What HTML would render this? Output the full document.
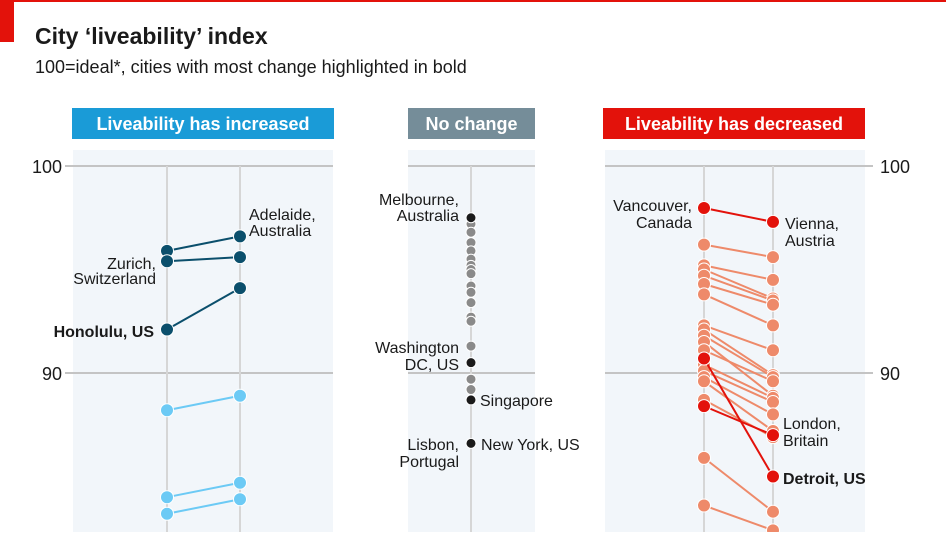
<!DOCTYPE html>
<html><head><meta charset="utf-8"><style>
body{margin:0;width:946px;height:532px;overflow:hidden;background:#fff;font-family:"Liberation Sans Narrow","Liberation Sans",sans-serif;}
svg text{font-family:"Liberation Sans Narrow","Liberation Sans",sans-serif;}
</style></head><body>
<svg id="c" width="946" height="532">
<rect x="0" y="0" width="946" height="2" fill="#e3120b"/>
<rect x="0" y="0" width="14" height="42" fill="#e3120b"/>
<text x="35" y="44" font-size="23" font-weight="bold" fill="#1a1a1a">City ‘liveability’ index</text>
<text x="35" y="73" font-size="18" fill="#1a1a1a">100=ideal*, cities with most change highlighted in bold</text>
</svg>
<script>
const incStart=[95.9,95.4,92.1,88.2,84.0,83.2];
const incEnd=[96.6,95.6,94.1,88.9,84.7,83.9];
const incHi=[1,1,1,0,0,0];
const noChange=[97.5,97.2,96.8,96.3,95.9,95.5,95.2,95.0,94.8,94.2,93.9,93.4,92.7,92.5,91.3,90.5,89.7,89.2,88.7,86.6];
const noHi=[1,0,0,0,0,0,0,0,0,0,0,0,0,0,0,1,0,0,1,1];
const decStart=[97.97,96.2,95.2,95.0,94.7,94.3,93.8,92.3,92.1,91.8,91.5,91.1,90.4,90.1,89.8,89.6,90.7,88.4,88.7,85.9,83.6];
const decEnd=[97.3,95.6,94.5,93.6,93.5,93.3,92.3,91.1,89.9,89.8,88.9,89.6,88.8,88.6,88.0,87.2,85.0,87.0,86.9,83.3,82.4];
const decHi=[1,0,0,0,0,0,0,0,0,0,0,0,0,0,0,0,1,1,0,0,0];
const yTicks=[100,90];
const svg=document.getElementById('c');const NS='http://www.w3.org/2000/svg';
const y=v=>166+(100-v)*20.7;
function el(t,a,p){const e=document.createElementNS(NS,t);for(const k in a)e.setAttribute(k,a[k]);(p||svg).appendChild(e);return e;}
function txt(x,yy,s,o){const e=el('text',Object.assign({x:x,y:yy,'font-size':16,fill:'#1a1a1a'},o||{}));e.textContent=s;return e;}
// panels
const panels=[[73,333,'#1a9bd7','Liveability has increased',72,334],[408,535,'#758d99','No change',408,535],[605,865,'#e3120b','Liveability has decreased',603,865]];
panels.forEach((p,i)=>{
 const r=el('rect',{x:p[0],y:150,width:p[1]-p[0],height:382,fill:'#f2f6fa'});
 
 const h=el('rect',{x:p[4],y:108,width:p[5]-p[4],height:31,fill:p[2]});
 
 const t=txt((p[4]+p[5])/2,130,p[3],{'text-anchor':'middle',fill:'#fff','font-weight':'bold','font-size':18});
 
});
yTicks.forEach(v=>{
 [[65,333],[408,535],[605,873]].forEach(s=>{const l=el('line',{x1:s[0],x2:s[1],y1:y(v),y2:y(v),stroke:'#c4c4c4','stroke-width':2});
 });
 const a=txt(62,y(v)+7,String(v),{'text-anchor':'end','font-size':18});
 
 const b=txt(880,y(v)+7,String(v),{'font-size':18});
 
});
[167,240,471,704,773].forEach(x=>{const l=el('line',{x1:x,x2:x,y1:166,y2:532,stroke:'#d6d6d6','stroke-width':2});
 });
function slope(x1,x2,s,e,hi,c1,c2,name){
 const order=s.map((_,i)=>i).sort((a,b)=>hi[a]-hi[b]);
 order.forEach(i=>{const c=hi[i]?c1:c2;
  const l=el('line',{x1:x1,x2:x2,y1:y(s[i]),y2:y(e[i]),stroke:c,'stroke-width':2});
  
  [[x1,s[i]],[x2,e[i]]].forEach(p=>{const d=el('circle',{cx:p[0],cy:y(p[1]),r:6.5,fill:c,stroke:'#fff','stroke-width':1});
  });
 });
}
slope(167,240,incStart,incEnd,incHi,'#0b4f6c','#6ccaf5','increase');
slope(704,773,decStart,decEnd,decHi,'#e3120b','#ee8a6a','decrease');
noChange.map((v,i)=>i).sort((a,b)=>noHi[a]-noHi[b]).forEach(i=>{
 const d=el('circle',{cx:471,cy:y(noChange[i]),r:5,fill:noHi[i]?'#1a1a1a':'#8a8a8a',stroke:'#fff','stroke-width':1});
 
});
const labels=[
[249,220,'Adelaide,',0],[249,236,'Australia',0],
[156,269,'Zurich,',1],[156,284,'Switzerland',1],
[154,337,'Honolulu, US',1,1],
[459,205,'Melbourne,',1],[459,221,'Australia',1],
[459,353,'Washington',1],[459,370,'DC, US',1],
[480,406,'Singapore',0],
[459,450,'Lisbon,',1],[459,467,'Portugal',1],[481,450,'New York, US',0],
[692,211,'Vancouver,',1],[692,228,'Canada',1],
[785,229,'Vienna,',0],[785,246,'Austria',0],
[783,429,'London,',0],[783,446,'Britain',0],
[783,484,'Detroit, US',0,1]];
labels.forEach(l=>{const o={};if(l[3])o['text-anchor']='end';if(l[4])o['font-weight']='bold';
 const t=txt(l[0],l[1],l[2],o);});
</script>
</body></html>
